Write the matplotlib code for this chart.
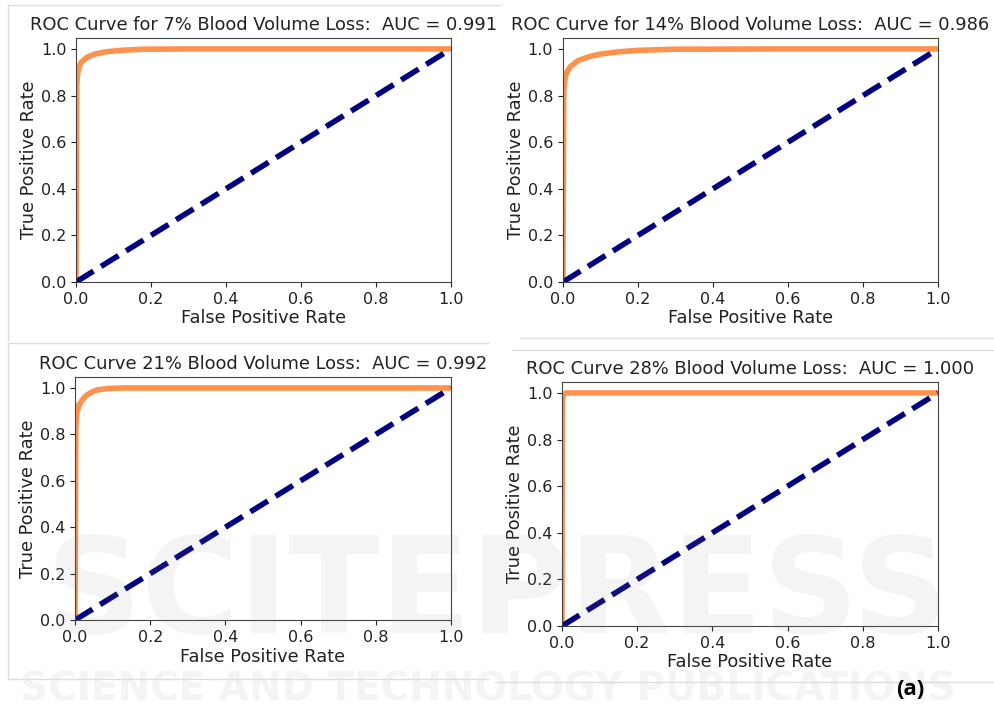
import numpy as np
import matplotlib
matplotlib.use("Agg")
import matplotlib.pyplot as plt
from matplotlib.lines import Line2D

# values
titles = [
    "ROC Curve for 7% Blood Volume Loss:  AUC = 0.991",
    "ROC Curve for 14% Blood Volume Loss:  AUC = 0.986",
    "ROC Curve 21% Blood Volume Loss:  AUC = 0.992",
    "ROC Curve 28% Blood Volume Loss:  AUC = 1.000",
]

fpr_7 = [0.0, 0.002, 0.004, 0.008, 0.015, 0.03, 0.05, 0.08, 0.12, 0.18, 0.3, 0.6, 1.0]
tpr_7 = [0.0, 0.84, 0.89, 0.925, 0.945, 0.965, 0.978, 0.988, 0.994, 0.999, 1.0, 1.0, 1.0]

fpr_14 = [0.0, 0.002, 0.005, 0.01, 0.02, 0.04, 0.07, 0.1, 0.15, 0.2, 0.3, 0.6, 1.0]
tpr_14 = [0.0, 0.82, 0.87, 0.9, 0.925, 0.95, 0.967, 0.978, 0.988, 0.994, 0.999, 1.0, 1.0]

fpr_21 = [0.0, 0.002, 0.005, 0.01, 0.02, 0.03, 0.045, 0.06, 0.09, 0.13, 0.3, 1.0]
tpr_21 = [0.0, 0.83, 0.89, 0.925, 0.95, 0.968, 0.983, 0.992, 0.998, 1.0, 1.0, 1.0]

fpr_28 = [0.0, 0.001, 0.004, 0.01, 0.3, 1.0]
tpr_28 = [0.0, 0.97, 0.99, 1.0, 1.0, 1.0]

fprs = [fpr_7, fpr_14, fpr_21, fpr_28]
tprs = [tpr_7, tpr_14, tpr_21, tpr_28]
chance = [0, 1]

ticks = [0.0, 0.2, 0.4, 0.6, 0.8, 1.0]

fig = plt.figure(figsize=(9.95, 7.09), dpi=100)

# watermark, drawn first and very faint
fig.text(0.5, 0.16, "SCITEPRESS", fontsize=96, fontweight="bold", color="#999999",
         alpha=0.1, ha="center", va="center", zorder=0)
fig.text(0.49, 0.028, "SCIENCE AND TECHNOLOGY PUBLICATIONS", fontsize=28, fontweight="bold",
         color="#999999", alpha=0.1, ha="center", va="center", zorder=0)

# axes boxes (left, bottom, width, height) in figure fraction
boxes = [
    [0.0764, 0.6023, 0.3769, 0.3441],
    [0.5658, 0.6023, 0.3769, 0.3441],
    [0.0754, 0.1255, 0.3779, 0.3427],
    [0.5648, 0.1171, 0.3779, 0.3441],
]

for i in range(4):
    ax = fig.add_axes(boxes[i])
    ax.patch.set_alpha(0)
    ax.plot(fprs[i], tprs[i], color="#ff914d", lw=4)
    ax.plot(chance, chance, color="navy", lw=4, linestyle="--")
    ax.set_xlim(0.0, 1.0)
    ax.set_ylim(0.0, 1.047)
    ax.set_xticks(ticks)
    ax.set_yticks(ticks)
    ax.tick_params(labelsize=11.5, colors="#222222")
    for s in ax.spines.values():
        s.set_color("#444444")
    ax.set_xlabel("False Positive Rate", fontsize=12.8, color="#222222", labelpad=2)
    ax.set_ylabel("True Positive Rate", fontsize=12.8, color="#222222", labelpad=2)
    ax.set_title(titles[i], fontsize=12.9, color="#222222")

# faint frames of the pasted screenshots
W, H = 995.0, 709.0
frame_lines = [
    ((8, 500), (5, 5)), ((8, 8), (5, 340)),
    ((8, 488), (343, 343)), ((8, 8), (343, 679)), ((8, 488), (679, 679)),
    ((520, 995), (338, 338)), ((512, 995), (350, 350)), ((495, 995), (682, 682)),
]
for xs, ys in frame_lines:
    fig.add_artist(Line2D([x / W for x in xs], [1 - y / H for y in ys],
                          color="#dddddd", lw=1))

fig.text(0.915, 0.027, "(a)", fontsize=16, fontweight="bold", family="Open Sans",
         ha="center", va="center")

fig.savefig("out.png", dpi=100)
